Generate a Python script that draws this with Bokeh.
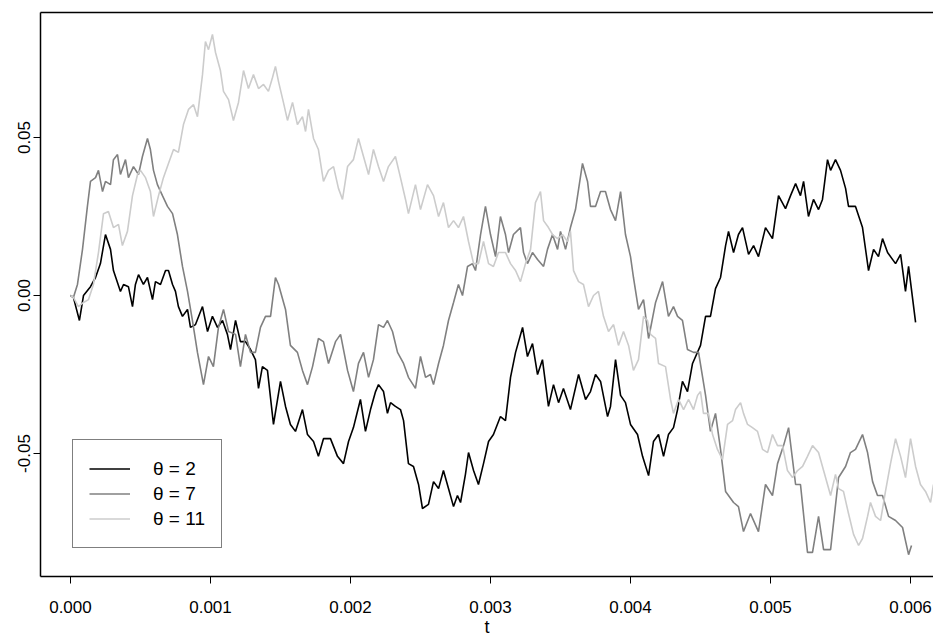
import numpy as np
from bokeh.plotting import figure
from bokeh.models import (Range1d, FixedTicker, NumeralTickFormatter, LinearAxis,
                          Legend, LegendItem)
from bokeh.embed import file_html
from bokeh.resources import INLINE

# ---- data (t in milliseconds -> seconds below, values in thousandths) ----
t2_ms = [0, 0.021, 0.064, 0.093, 0.143, 0.179, 0.214, 0.25, 0.286, 0.307, 0.357, 0.379, 0.414, 0.443,
         0.464, 0.486, 0.521, 0.55, 0.586, 0.607, 0.643, 0.679, 0.7, 0.729, 0.75, 0.771, 0.8, 0.836,
         0.857, 0.893, 0.943, 0.979, 1.014, 1.05, 1.086, 1.121, 1.143, 1.179, 1.214, 1.25, 1.286,
         1.321, 1.343, 1.371, 1.407, 1.45, 1.5, 1.536, 1.571, 1.607, 1.657, 1.693, 1.736, 1.771,
         1.807, 1.857, 1.907, 1.95, 1.986, 2.021, 2.071, 2.107, 2.143, 2.179, 2.2, 2.236, 2.264,
         2.286, 2.321, 2.357, 2.379, 2.414, 2.45, 2.486, 2.514, 2.557, 2.593, 2.629, 2.664, 2.7,
         2.736, 2.764, 2.786, 2.821, 2.843, 2.879, 2.914, 2.95, 2.986, 3.021, 3.071, 3.107, 3.143,
         3.179, 3.229, 3.264, 3.3, 3.336, 3.371, 3.414, 3.45, 3.486, 3.521, 3.571, 3.629, 3.679,
         3.714, 3.75, 3.786, 3.836, 3.857, 3.893, 3.929, 3.964, 4.0, 4.05, 4.086, 4.129, 4.164,
         4.2, 4.236, 4.271, 4.307, 4.336, 4.371, 4.407, 4.443, 4.5, 4.536, 4.571, 4.607, 4.643,
         4.679, 4.7, 4.736, 4.771, 4.8, 4.843, 4.879, 4.914, 4.964, 5.014, 5.057, 5.107, 5.143,
         5.179, 5.214, 5.236, 5.271, 5.307, 5.343, 5.371, 5.407, 5.429, 5.464, 5.5, 5.536, 5.557,
         5.607, 5.657, 5.7, 5.736, 5.771, 5.8, 5.836, 5.893, 5.929, 5.964, 5.986, 6.036]
v2_milli = [0, -0.6, -7.9, 0, 2.8, 5.7, 10.1, 19.3, 14.6, 7.9, 1.3, 3.5, 2.8, -3.5, 3.5, 6.6, 3.5,
            5.7, -1.3, 4.4, 3.5, 7.9, 7.9, 3.5, 1.3, -3.5, -6.6, -4.4, -10.1, -9.2, -3.5, -11.4,
            -6.6, -10.1, -7.9, -12.3, -17.1, -7.9, -14.6, -14.6, -17.1, -20.3, -29.4, -22.5,
            -23.7, -40.8, -27.2, -35.1, -40.8, -43.0, -36.1, -44.0, -46.2, -50.9, -45.3, -45.3,
            -50.9, -53.2, -46.2, -41.8, -32.9, -43.0, -36.1, -30.4, -28.2, -30.4, -37.3, -33.9,
            -35.1, -36.1, -39.6, -53.2, -54.1, -59.8, -67.4, -66.1, -58.9, -61.1, -55.4, -61.1,
            -66.8, -63.3, -65.5, -56.6, -49.7, -55.4, -59.8, -53.2, -46.2, -44.0, -38.3, -39.6,
            -25.9, -18.0, -10.1, -19.3, -15.2, -25.0, -20.3, -35.1, -28.2, -33.9, -29.4, -36.1,
            -25.0, -32.9, -30.4, -25.0, -27.2, -38.3, -35.1, -20.3, -31.6, -33.9, -40.8, -44.0,
            -50.9, -57.0, -46.2, -44.0, -50.9, -44.0, -41.8, -36.1, -27.2, -30.4, -21.5, -15.8,
            -6.6, -6.6, 2.2, 5.7, 15.8, 20.3, 13.6, 19.3, 21.5, 13.0, 15.8, 12.3, 21.5, 18.0,
            31.6, 27.5, 31.6, 35.4, 31.6, 36.1, 25.0, 30.4, 27.2, 30.4, 43.0, 39.6, 43.0, 39.6,
            33.9, 28.2, 28.2, 21.5, 7.9, 14.6, 12.3, 18.0, 13.6, 10.1, 13.0, 1.3, 9.2, -8.5]

t7_ms = [0, 0.021, 0.05, 0.086, 0.121, 0.143, 0.179, 0.2, 0.229, 0.25, 0.286, 0.307, 0.336, 0.357,
         0.393, 0.414, 0.45, 0.486, 0.514, 0.55, 0.571, 0.593, 0.621, 0.657, 0.693, 0.729, 0.764,
         0.8, 0.836, 0.871, 0.907, 0.95, 0.986, 1.021, 1.057, 1.093, 1.129, 1.179, 1.214, 1.25,
         1.286, 1.321, 1.357, 1.393, 1.429, 1.464, 1.486, 1.536, 1.571, 1.621, 1.657, 1.693,
         1.729, 1.771, 1.807, 1.843, 1.893, 1.929, 1.979, 2.021, 2.057, 2.093, 2.129, 2.164, 2.2,
         2.236, 2.264, 2.3, 2.336, 2.379, 2.414, 2.464, 2.5, 2.536, 2.571, 2.593, 2.629, 2.664,
         2.7, 2.736, 2.771, 2.8, 2.836, 2.871, 2.893, 2.929, 2.964, 3.0, 3.036, 3.071, 3.107,
         3.129, 3.164, 3.214, 3.236, 3.264, 3.3, 3.336, 3.379, 3.407, 3.443, 3.479, 3.5, 3.536,
         3.571, 3.607, 3.657, 3.693, 3.714, 3.75, 3.786, 3.821, 3.857, 3.893, 3.929, 3.964, 4.0,
         4.021, 4.057, 4.093, 4.129, 4.179, 4.229, 4.271, 4.307, 4.336, 4.371, 4.407, 4.45,
         4.486, 4.536, 4.571, 4.607, 4.643, 4.679, 4.736, 4.771, 4.807, 4.857, 4.914, 4.964,
         5.014, 5.05, 5.093, 5.129, 5.179, 5.214, 5.264, 5.3, 5.343, 5.379, 5.429, 5.486, 5.536,
         5.571, 5.607, 5.657, 5.693, 5.729, 5.764, 5.8, 5.843, 5.893, 5.943, 5.986, 6.007]
v7_milli = [0, -0.6, 3.5, 14.6, 28.2, 36.1, 37.3, 39.6, 32.9, 36.1, 35.1, 43.0, 44.6, 38.3, 43.0,
            37.3, 40.8, 38.3, 44.0, 49.7, 46.2, 39.6, 35.1, 31.6, 28.2, 25.9, 19.3, 9.2, 1.3, -7.9,
            -18.0, -28.2, -19.3, -22.5, -10.1, -4.4, -11.4, -12.3, -22.5, -12.3, -18.0, -18.0,
            -10.1, -6.6, -6.6, 5.7, 3.5, -4.4, -15.8, -18.0, -23.7, -28.2, -22.5, -13.6, -14.6,
            -21.5, -14.6, -12.3, -23.7, -30.4, -21.5, -18.0, -25.9, -20.3, -9.2, -10.1, -7.9,
            -11.4, -18.0, -21.5, -25.9, -29.4, -19.3, -25.9, -25.0, -28.2, -21.5, -15.8, -7.9,
            -2.2, 3.5, 0, 9.2, 10.1, 7.9, 19.3, 28.2, 19.3, 12.3, 25.0, 19.3, 13.6, 19.3, 21.5,
            13.6, 10.1, 13.6, 11.4, 9.2, 14.6, 19.3, 14.6, 20.3, 14.6, 21.5, 27.2, 41.8, 36.1,
            28.2, 28.2, 32.9, 32.9, 27.2, 23.7, 32.9, 19.3, 12.3, 5.7, -4.4, -1.3, -13.6, -2.2,
            4.4, -6.6, -3.5, -6.6, -7.9, -17.1, -18.0, -18.0, -31.6, -43.0, -37.3, -48.7, -62.0,
            -65.5, -66.8, -74.7, -69.0, -74.7, -59.8, -63.3, -53.2, -47.5, -41.8, -59.8, -59.8,
            -81.3, -81.3, -69.9, -80.4, -80.4, -57.6, -54.1, -49.7, -48.7, -44.0, -49.7, -58.9,
            -63.3, -63.3, -69.9, -71.2, -73.4, -82.0, -79.1]

t11_ms = [0, 0.021, 0.057, 0.093, 0.129, 0.164, 0.2, 0.236, 0.271, 0.307, 0.343, 0.371, 0.407,
          0.443, 0.479, 0.5, 0.536, 0.571, 0.593, 0.629, 0.664, 0.7, 0.736, 0.771, 0.807, 0.843,
          0.879, 0.907, 0.943, 0.964, 0.986, 1.014, 1.036, 1.071, 1.093, 1.129, 1.164, 1.2,
          1.236, 1.271, 1.307, 1.343, 1.379, 1.414, 1.443, 1.464, 1.486, 1.521, 1.55, 1.586,
          1.621, 1.657, 1.679, 1.7, 1.736, 1.771, 1.807, 1.843, 1.879, 1.914, 1.943, 1.979,
          2.021, 2.057, 2.093, 2.129, 2.164, 2.2, 2.236, 2.271, 2.321, 2.357, 2.393, 2.414,
          2.464, 2.5, 2.55, 2.593, 2.629, 2.664, 2.7, 2.736, 2.771, 2.807, 2.843, 2.879, 2.914,
          2.95, 2.986, 3.021, 3.057, 3.107, 3.143, 3.179, 3.214, 3.25, 3.286, 3.321, 3.357,
          3.379, 3.414, 3.443, 3.479, 3.514, 3.55, 3.571, 3.593, 3.629, 3.664, 3.7, 3.736,
          3.771, 3.807, 3.843, 3.879, 3.914, 3.95, 3.986, 4.021, 4.057, 4.093, 4.121, 4.143,
          4.179, 4.2, 4.25, 4.286, 4.307, 4.343, 4.379, 4.414, 4.45, 4.479, 4.5, 4.521, 4.557,
          4.586, 4.621, 4.657, 4.693, 4.729, 4.75, 4.786, 4.807, 4.836, 4.871, 4.907, 4.943,
          4.979, 5.014, 5.05, 5.086, 5.121, 5.157, 5.193, 5.229, 5.264, 5.3, 5.343, 5.379,
          5.429, 5.464, 5.486, 5.521, 5.557, 5.593, 5.629, 5.657, 5.693, 5.714, 5.75, 5.786,
          5.821, 5.857, 5.893, 5.929, 5.964, 6.0, 6.036, 6.071, 6.107, 6.143, 6.164]
v11_milli = [0, -0.6, -3.5, -2.2, -1.3, 3.5, 13.6, 25.9, 26.6, 21.5, 22.5, 15.8, 20.3, 31.6, 38.3,
             39.6, 37.3, 32.9, 25.0, 31.6, 37.3, 41.8, 46.2, 45.3, 54.1, 58.9, 60.4, 56.6, 69.9,
             80.4, 77.8, 82.6, 76.9, 71.2, 64.6, 62.0, 55.4, 61.1, 71.2, 65.5, 69.9, 65.5, 66.8,
             64.6, 69.0, 72.5, 67.7, 61.1, 55.4, 61.1, 54.1, 56.6, 51.9, 58.9, 49.7, 46.2, 36.1,
             39.6, 40.8, 33.9, 30.4, 40.8, 43.0, 49.7, 44.0, 38.3, 46.2, 40.8, 36.1, 40.8, 44.0,
             37.3, 30.4, 25.9, 35.1, 27.2, 35.1, 31.6, 25.0, 29.4, 21.5, 23.7, 21.5, 25.0, 17.1,
             10.1, 10.1, 17.1, 10.1, 9.2, 13.6, 13.6, 10.1, 7.9, 4.4, 10.1, 14.6, 29.4, 32.9,
             23.7, 21.5, 19.3, 18.0, 19.3, 17.1, 20.3, 7.9, 4.4, 3.5, -3.5, 0, 1.3, -6.6, -11.4,
             -9.2, -15.8, -11.4, -15.8, -23.7, -20.3, -6.6, -7.9, -12.3, -13.6, -21.5, -22.5,
             -32.9, -37.3, -32.9, -36.1, -32.9, -36.1, -31.6, -30.4, -37.3, -37.3, -44.0, -48.7,
             -51.9, -40.8, -39.6, -36.1, -33.9, -37.3, -40.8, -41.8, -43.0, -48.7, -49.7, -44.0,
             -47.5, -47.5, -55.4, -57.6, -55.4, -54.1, -50.9, -47.5, -49.7, -55.4, -63.3, -56.6,
             -61.1, -62.0, -69.0, -75.6, -79.1, -76.9, -69.9, -65.5, -69.9, -71.2, -62.0, -53.2,
             -45.3, -50.9, -57.6, -45.3, -54.1, -59.8, -62.0, -65.5, -59.8]

x_ticks = [0.000, 0.001, 0.002, 0.003, 0.004, 0.005, 0.006]
y_ticks = [-0.05, 0.0, 0.05]
series_labels = ["θ = 2", "θ = 7", "θ = 11"]
series_colors = ["#000000", "#808080", "#cccccc"]

FONT = "Liberation Sans"

p = figure(width=933, height=640, output_backend="svg", toolbar_location=None,
           x_range=Range1d(-0.000214, 0.006164), y_range=Range1d(-0.08892, 0.08956),
           min_border_left=40, min_border_right=0, min_border_top=12, min_border_bottom=64,
           x_axis_label="t")
p.outline_line_color = None
p.grid.visible = False
p.background_fill_color = "white"
p.border_fill_color = "white"

for ax in (p.xaxis[0], p.yaxis[0]):
    ax.axis_line_width = 1.5
    ax.axis_line_color = "black"
    ax.major_tick_out = 7
    ax.major_tick_in = 0
    ax.minor_tick_out = 0
    ax.minor_tick_in = 0
    ax.major_tick_line_color = "black"
    ax.major_label_text_font = FONT
    ax.major_label_text_font_size = "17px"
    ax.major_label_text_color = "black"

p.xaxis[0].ticker = FixedTicker(ticks=x_ticks)
p.xaxis[0].formatter = NumeralTickFormatter(format="0.000")
p.xaxis[0].major_label_standoff = 17
p.xaxis[0].axis_label_text_font = FONT
p.xaxis[0].axis_label_text_font_size = "18px"
p.xaxis[0].axis_label_text_font_style = "normal"
p.xaxis[0].axis_label_text_color = "black"
p.xaxis[0].axis_label_standoff = 1

p.yaxis[0].ticker = FixedTicker(ticks=y_ticks)
p.yaxis[0].formatter = NumeralTickFormatter(format="0.00")
p.yaxis[0].major_label_orientation = "vertical"
p.yaxis[0].major_label_standoff = 3

top = LinearAxis(ticker=FixedTicker(ticks=[]), major_tick_out=0, major_tick_in=0,
                 minor_tick_out=0, minor_tick_in=0, major_label_text_font_size="0px",
                 axis_line_width=1.5, axis_line_color="black")
p.add_layout(top, "above")

t_lists = [t2_ms, t7_ms, t11_ms]
v_lists = [v2_milli, v7_milli, v11_milli]
renderers = []
for tl, vl, col in zip(t_lists, v_lists, series_colors):
    r = p.line(np.array(tl) * 1e-3, np.array(vl) * 1e-3, line_color=col, line_width=1.6)
    renderers.append(r)

legend = Legend(items=[LegendItem(label=lab, renderers=[r]) for lab, r in zip(series_labels, renderers)],
                location=(32, 28), margin=0, padding=16, spacing=0,
                label_height=25, glyph_height=25, glyph_width=41, label_standoff=23,
                border_line_color="black", border_line_width=1,
                background_fill_color="white", background_fill_alpha=1,
                label_text_font=FONT, label_text_font_size="19px", label_text_color="black")
p.add_layout(legend)

open("out.html", "w").write(file_html(p, INLINE))
